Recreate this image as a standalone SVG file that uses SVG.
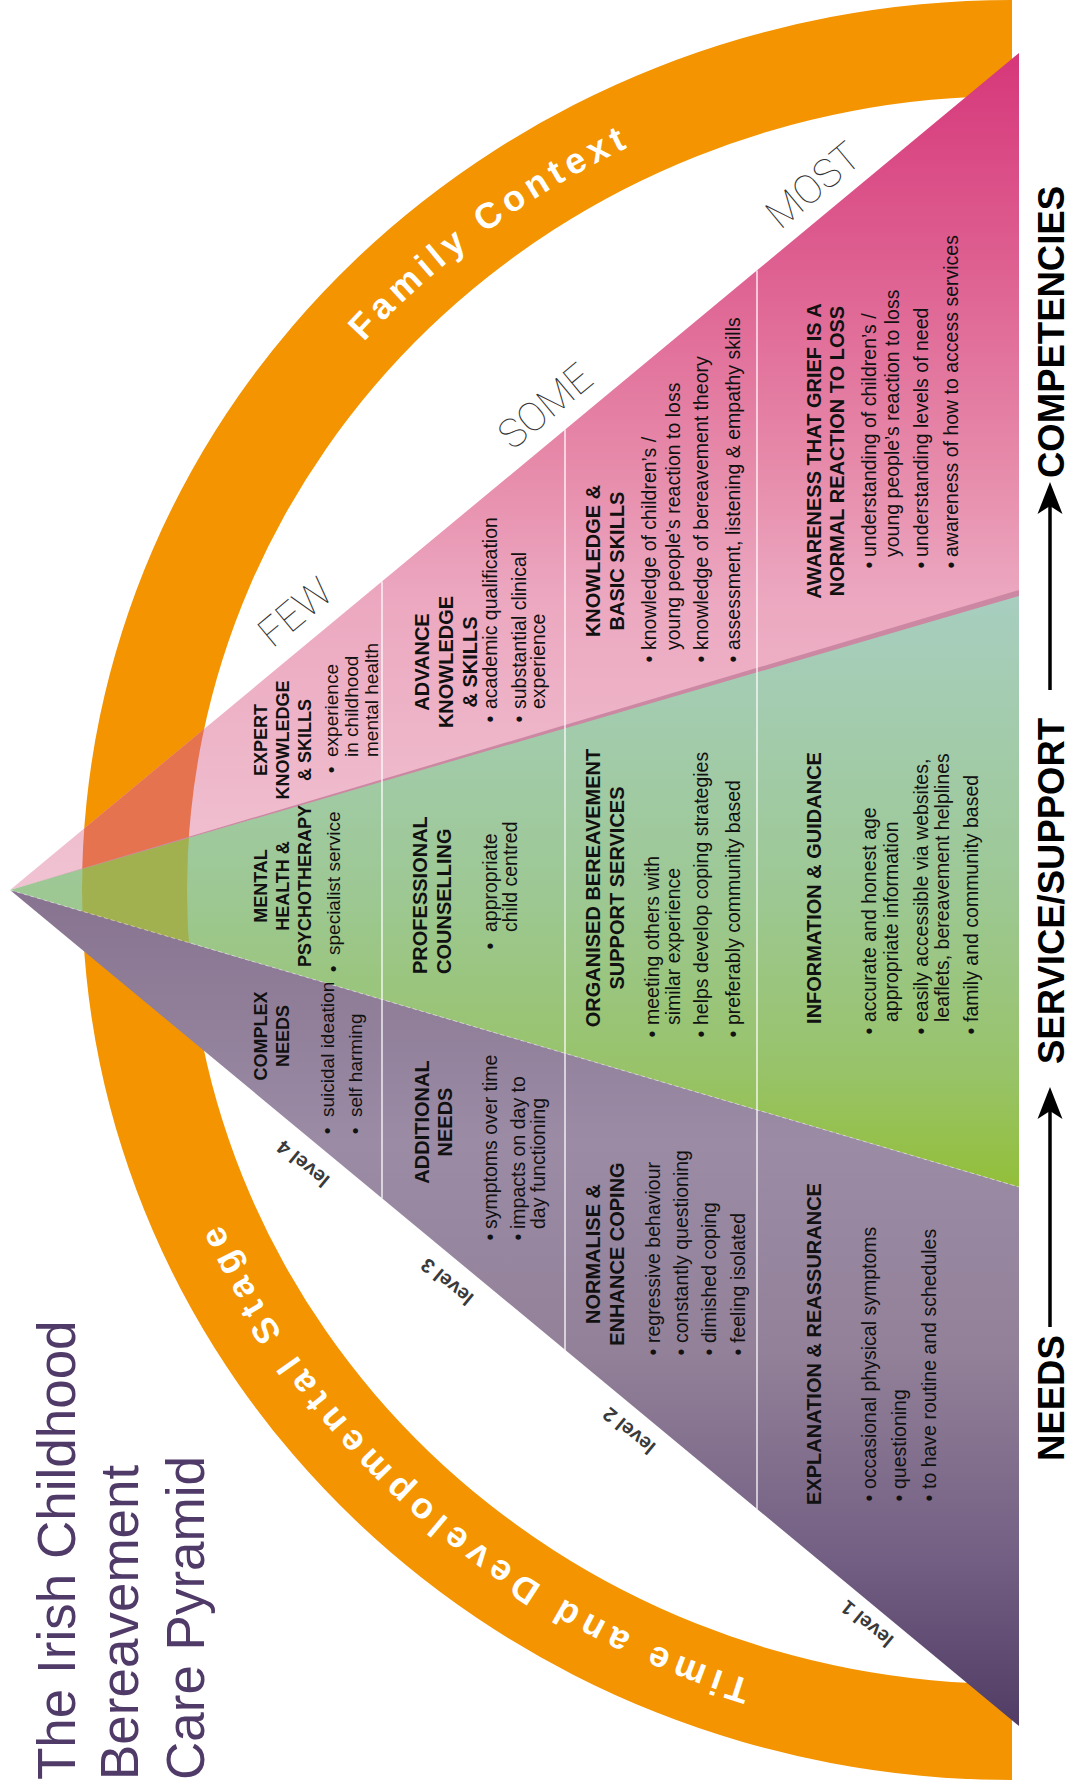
<svg xmlns="http://www.w3.org/2000/svg" width="1071" height="1787" viewBox="0 0 1071 1787">
<defs>
<style>
.h{font-family:"Liberation Sans",Arial,sans-serif;font-weight:700;font-size:20px;fill:#111}
.h4{font-size:18px}
.t{font-family:"Liberation Sans",Arial,sans-serif;font-size:19.5px;fill:#111}
.t4{font-size:19px}
.c{text-anchor:middle}
.lvl{font-family:"Liberation Sans",Arial,sans-serif;font-weight:700;font-size:20px;fill:#3a3a3a;text-anchor:middle}
.qty{font-family:Roboto,Lato,Inter,"Liberation Sans",sans-serif;font-weight:100;font-size:40px;fill:#333;text-anchor:middle}
.arc{font-family:"Liberation Sans",Arial,sans-serif;font-weight:700;font-size:36px;fill:#fff;letter-spacing:7px}
.ax{font-family:"Liberation Sans",Arial,sans-serif;font-weight:700;font-size:36.5px;fill:#000}
.ti{font-family:"Liberation Sans",Arial,sans-serif;font-size:53px;fill:#4f3a68}
.div{stroke:#fff;stroke-width:1.5;stroke-opacity:0.85}
</style>
<linearGradient id="gPink" gradientUnits="userSpaceOnUse" x1="0" y1="53" x2="0" y2="890">
<stop offset="0" stop-color="#d6377a"/>
<stop offset="0.256" stop-color="#de6091"/>
<stop offset="0.474" stop-color="#e687a8"/>
<stop offset="0.653" stop-color="#eca8c0"/>
<stop offset="1" stop-color="#f0c3d2"/>
</linearGradient>
<linearGradient id="gGreen" gradientUnits="userSpaceOnUse" x1="0" y1="594" x2="0" y2="1187">
<stop offset="0" stop-color="#a7cec0"/>
<stop offset="0.5" stop-color="#9dc894"/>
<stop offset="0.8" stop-color="#98c36a"/>
<stop offset="1" stop-color="#93bf3a"/>
</linearGradient>
<linearGradient id="gPurple" gradientUnits="userSpaceOnUse" x1="0" y1="890" x2="0" y2="1726">
<stop offset="0" stop-color="#87738f"/>
<stop offset="0.3" stop-color="#9b8ba5"/>
<stop offset="0.55" stop-color="#938199"/>
<stop offset="0.8" stop-color="#735f83"/>
<stop offset="1" stop-color="#513c65"/>
</linearGradient>
<clipPath id="cpPink"><polygon points="10,890 600,400.6 600,716.9"/></clipPath>
<clipPath id="cpGreen"><polygon points="10,890 600,716.9 600,1063.7"/></clipPath>
<path id="band" d="M 1012 0 A 930 890 0 0 0 82 890 A 930 890 0 0 0 1012 1780 L 1012 1684 A 825 794 0 0 1 187 890 A 825 794 0 0 1 1012 96 Z"/>
<path id="arcText" d="M 1012 1719 A 864 829 0 0 1 148 890 A 864 829 0 0 1 1012 61" fill="none"/>
</defs>

<g id="context-band">
<use href="#band" fill="#f39400"/>
<text class="arc"><textPath href="#arcText" startOffset="628" text-anchor="middle">Time and Developmental Stage</textPath></text>
<text class="arc" style="letter-spacing:5.5px"><textPath href="#arcText" startOffset="2100" text-anchor="middle">Family Context</textPath></text>
</g>

<g id="pyramid">
<polygon id="band-competencies" points="10,890 1019,53 1019,594" fill="url(#gPink)"/>
<polygon id="band-service" points="10,890 1019,594 1019,1187" fill="url(#gGreen)"/>
<g clip-path="url(#cpPink)"><use href="#band" fill="#e67350"/></g>
<g clip-path="url(#cpGreen)"><use href="#band" fill="#a1b150"/></g>
<polygon id="band-needs" points="10,890 1019,1187 1019,1726" fill="url(#gPurple)"/>
<polygon points="10,890 1019,590 1019,596" fill="#cc88a2"/>
<line x1="10" y1="890" x2="1019" y2="1187" stroke="#fff" stroke-opacity="0.45" stroke-width="1" stroke-dasharray="4 3"/>
<line class="div" x1="382" y1="581.4" x2="382" y2="1198.6"/>
<line class="div" x1="565" y1="429.6" x2="565" y2="1350.4"/>
<line class="div" x1="757" y1="270.4" x2="757" y2="1509.6"/>
</g>

<g id="quantity-labels">
<g transform="translate(295,612) rotate(-39.67)"><text class="qty" x="0" y="14">FEW</text></g>
<g transform="translate(545,406) rotate(-39.67)"><text class="qty" x="0" y="14">SOME</text></g>
<g transform="translate(813,185) rotate(-39.67)"><text class="qty" x="0" y="14">MOST</text></g>
</g>

<g id="level-labels">
<g transform="translate(303,1164) rotate(219.64)"><text class="lvl" x="0" y="7">level 4</text></g>
<g transform="translate(447,1282) rotate(219.64)"><text class="lvl" x="0" y="7">level 3</text></g>
<g transform="translate(629,1431) rotate(219.64)"><text class="lvl" x="0" y="7">level 2</text></g>
<g transform="translate(867,1624) rotate(219.64)"><text class="lvl" x="0" y="7">level 1</text></g>
</g>

<g id="node-l4-competency" transform="rotate(-90)">
<text class="h h4 c" x="-740" y="267">EXPERT</text>
<text class="h h4 c" x="-740" y="289">KNOWLEDGE</text>
<text class="h h4 c" x="-740" y="311">&amp; SKILLS</text>
<text class="t t4 c" x="-770" y="338">•</text>
<text class="t t4" x="-757" y="338">experience</text>
<text class="t t4" x="-757" y="358">in childhood</text>
<text class="t t4" x="-757" y="378">mental health</text>
</g>
<g id="node-l4-service" transform="rotate(-90)">
<text class="h h4 c" x="-886" y="267">MENTAL</text>
<text class="h h4 c" x="-886" y="289">HEALTH &amp;</text>
<text class="h h4 c" x="-886" y="311">PSYCHOTHERAPY</text>
<text class="t t4 c" x="-969" y="340">•</text>
<text class="t t4" x="-955" y="340">specialist service</text>
</g>
<g id="node-l4-needs" transform="rotate(-90)">
<text class="h h4 c" x="-1036" y="267">COMPLEX</text>
<text class="h h4 c" x="-1036" y="289">NEEDS</text>
<text class="t t4 c" x="-1131" y="334">•</text>
<text class="t t4" x="-1117" y="334">suicidal ideation</text>
<text class="t t4 c" x="-1131" y="362">•</text>
<text class="t t4" x="-1117" y="362">self harming</text>
</g>

<g id="node-l3-competency" transform="rotate(-90)">
<text class="h c" x="-662" y="429">ADVANCE</text>
<text class="h c" x="-662" y="453">KNOWLEDGE</text>
<text class="h c" x="-662" y="477">&amp; SKILLS</text>
<text class="t c" x="-719" y="497">•</text>
<text class="t" x="-709" y="497">academic qualification</text>
<text class="t c" x="-719" y="526">•</text>
<text class="t" x="-709" y="526">substantial clinical</text>
<text class="t" x="-709" y="545">experience</text>
</g>
<g id="node-l3-service" transform="rotate(-90)">
<text class="h" x="-974" y="427">PROFESSIONAL</text>
<text class="h" x="-974" y="451">COUNSELLING</text>
<text class="t c" x="-946" y="497">•</text>
<text class="t" x="-932" y="497">appropriate</text>
<text class="t" x="-932" y="517">child centred</text>
</g>
<g id="node-l3-needs" transform="rotate(-90)">
<text class="h c" x="-1122" y="429">ADDITIONAL</text>
<text class="h c" x="-1122" y="452">NEEDS</text>
<text class="t c" x="-1237" y="497">•</text>
<text class="t" x="-1229" y="497">symptoms over time</text>
<text class="t c" x="-1237" y="525">•</text>
<text class="t" x="-1229" y="525">impacts on day to</text>
<text class="t" x="-1229" y="545">day functioning</text>
</g>

<g id="node-l2-competency" transform="rotate(-90)">
<text class="h c" x="-561" y="600">KNOWLEDGE &amp;</text>
<text class="h c" x="-561" y="624">BASIC SKILLS</text>
<text class="t c" x="-659" y="656">•</text>
<text class="t" x="-650" y="656">knowledge of children’s /</text>
<text class="t" x="-650" y="680">young people’s reaction to loss</text>
<text class="t c" x="-659" y="708">•</text>
<text class="t" x="-650" y="708">knowledge of bereavement theory</text>
<text class="t c" x="-659" y="740">•</text>
<text class="t" x="-650" y="740">assessment, listening &amp; empathy skills</text>
</g>
<g id="node-l2-service" transform="rotate(-90)">
<text class="h c" x="-888" y="600">ORGANISED BEREAVEMENT</text>
<text class="h c" x="-888" y="624">SUPPORT SERVICES</text>
<text class="t c" x="-1034" y="659">•</text>
<text class="t" x="-1025" y="659">meeting others with</text>
<text class="t" x="-1025" y="680">similar experience</text>
<text class="t c" x="-1034" y="708">•</text>
<text class="t" x="-1025" y="708">helps develop coping strategies</text>
<text class="t c" x="-1034" y="740">•</text>
<text class="t" x="-1025" y="740">preferably community based</text>
</g>
<g id="node-l2-needs" transform="rotate(-90)">
<text class="h c" x="-1254" y="600">NORMALISE &amp;</text>
<text class="h c" x="-1254" y="624">ENHANCE COPING</text>
<text class="t c" x="-1352" y="660">•</text>
<text class="t" x="-1343" y="660">regressive behaviour</text>
<text class="t c" x="-1352" y="688">•</text>
<text class="t" x="-1343" y="688">constantly questioning</text>
<text class="t c" x="-1352" y="716">•</text>
<text class="t" x="-1343" y="716">dimished coping</text>
<text class="t c" x="-1352" y="745">•</text>
<text class="t" x="-1343" y="745">feeling isolated</text>
</g>

<g id="node-l1-competency" transform="rotate(-90)">
<text class="h c" x="-451" y="821">AWARENESS THAT GRIEF IS A</text>
<text class="h c" x="-451" y="844">NORMAL REACTION TO LOSS</text>
<text class="t c" x="-565" y="876">•</text>
<text class="t" x="-557" y="876">understanding of children’s /</text>
<text class="t" x="-557" y="899">young people’s reaction to loss</text>
<text class="t c" x="-565" y="928">•</text>
<text class="t" x="-557" y="928">understanding levels of need</text>
<text class="t c" x="-565" y="958">•</text>
<text class="t" x="-557" y="958">awareness of how to access services</text>
</g>
<g id="node-l1-service" transform="rotate(-90)">
<text class="h c" x="-888" y="821">INFORMATION &amp; GUIDANCE</text>
<text class="t c" x="-1031" y="876">•</text>
<text class="t" x="-1022" y="876">accurate and honest age</text>
<text class="t" x="-1022" y="898">appropriate information</text>
<text class="t c" x="-1031" y="928">•</text>
<text class="t" x="-1022" y="928">easily accessible via websites,</text>
<text class="t" x="-1022" y="949">leaflets, bereavement helplines</text>
<text class="t c" x="-1031" y="978">•</text>
<text class="t" x="-1022" y="978">family and community based</text>
</g>
<g id="node-l1-needs" transform="rotate(-90)">
<text class="h c" x="-1344" y="821">EXPLANATION &amp; REASSURANCE</text>
<text class="t c" x="-1498" y="876">•</text>
<text class="t" x="-1489" y="876">occasional physical symptoms</text>
<text class="t c" x="-1498" y="906">•</text>
<text class="t" x="-1489" y="906">questioning</text>
<text class="t c" x="-1498" y="936">•</text>
<text class="t" x="-1489" y="936">to have routine and schedules</text>
</g>

<g id="axis-labels" transform="rotate(-90)">
<text class="ax" x="-1461" y="1064">NEEDS</text>
<text class="ax" x="-1064" y="1064">SERVICE/SUPPORT</text>
<text class="ax" x="-478" y="1064">COMPETENCIES</text>
</g>

<g id="connectors" fill="#000" stroke="#000">
<line x1="1050" y1="1327" x2="1050" y2="1110" stroke-width="3.5"/>
<polygon points="1050,1087 1062.5,1119 1050,1111 1037.5,1119" stroke="none"/>
<line x1="1050" y1="690" x2="1050" y2="505" stroke-width="3.5"/>
<polygon points="1050,482 1062.5,514 1050,506 1037.5,514" stroke="none"/>
</g>

<g id="title" transform="rotate(-90)">
<text class="ti" x="-1780" y="75">The Irish Childhood</text>
<text class="ti" x="-1780" y="138">Bereavement</text>
<text class="ti" x="-1780" y="204">Care Pyramid</text>
</g>
</svg>
